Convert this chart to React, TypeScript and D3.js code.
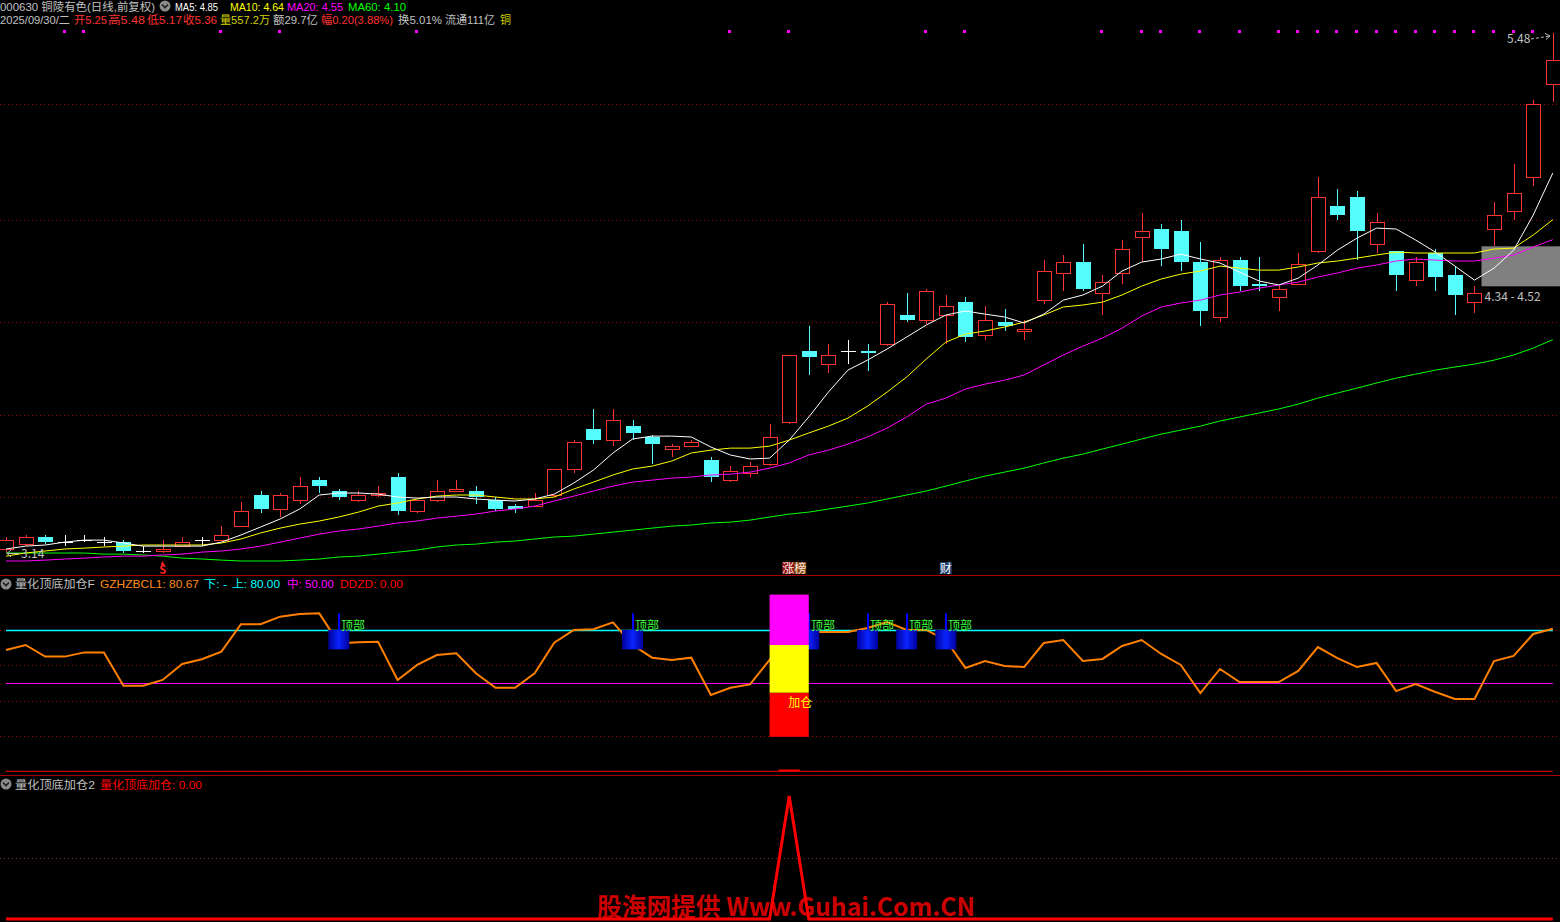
import React from "react";
import * as d3 from "d3";

// 000630 铜陵有色 日线 前复权, 80 trading days
const opens = [
  3.16, 3.18, 3.21, 3.19, 3.20, 3.19, 3.19, 3.15, 3.15, 3.17,
  3.20, 3.20, 3.26, 3.40, 3.34, 3.38, 3.47, 3.42, 3.38, 3.40,
  3.48, 3.33, 3.38, 3.42, 3.42, 3.38, 3.35, 3.35, 3.40, 3.52,
  3.70, 3.65, 3.71, 3.66, 3.61, 3.62, 3.56, 3.47, 3.50, 3.54,
  3.73, 4.05, 3.99, 4.05, 4.05, 4.08, 4.21, 4.19, 4.21, 4.27,
  4.12, 4.18, 4.14, 4.28, 4.40, 4.45, 4.31, 4.40, 4.56, 4.60,
  4.59, 4.45, 4.20, 4.46, 4.35, 4.29, 4.35, 4.50, 4.70, 4.74,
  4.53, 4.50, 4.37, 4.49, 4.39, 4.27, 4.60, 4.68, 4.83, 5.25,
];
const highs = [
  3.21, 3.22, 3.22, 3.22, 3.22, 3.21, 3.20, 3.17, 3.20, 3.21,
  3.21, 3.26, 3.37, 3.42, 3.41, 3.48, 3.48, 3.43, 3.42, 3.44,
  3.50, 3.38, 3.47, 3.47, 3.44, 3.39, 3.36, 3.41, 3.52, 3.65,
  3.79, 3.79, 3.74, 3.67, 3.63, 3.65, 3.57, 3.53, 3.55, 3.72,
  4.03, 4.16, 4.08, 4.10, 4.08, 4.27, 4.31, 4.33, 4.30, 4.29,
  4.25, 4.24, 4.19, 4.46, 4.48, 4.53, 4.39, 4.55, 4.67, 4.62,
  4.64, 4.54, 4.47, 4.47, 4.47, 4.34, 4.49, 4.83, 4.78, 4.77,
  4.67, 4.50, 4.47, 4.51, 4.43, 4.34, 4.72, 4.89, 5.18, 5.48,
];
const lows = [
  3.14, 3.17, 3.18, 3.17, 3.19, 3.17, 3.14, 3.14, 3.14, 3.17,
  3.17, 3.20, 3.26, 3.32, 3.30, 3.36, 3.41, 3.38, 3.37, 3.39,
  3.31, 3.32, 3.37, 3.42, 3.36, 3.33, 3.32, 3.35, 3.39, 3.50,
  3.63, 3.62, 3.65, 3.54, 3.57, 3.62, 3.46, 3.46, 3.48, 3.53,
  3.72, 3.94, 3.95, 3.99, 3.96, 4.07, 4.18, 4.17, 4.08, 4.09,
  4.10, 4.14, 4.10, 4.26, 4.32, 4.32, 4.21, 4.35, 4.45, 4.43,
  4.41, 4.16, 4.18, 4.32, 4.32, 4.23, 4.35, 4.49, 4.64, 4.46,
  4.49, 4.32, 4.34, 4.32, 4.21, 4.22, 4.52, 4.64, 4.79, 5.17,
];
const closes = [
  3.20, 3.21, 3.19, 3.19, 3.20, 3.19, 3.15, 3.15, 3.16, 3.19,
  3.20, 3.22, 3.33, 3.34, 3.40, 3.44, 3.44, 3.39, 3.40, 3.41,
  3.33, 3.38, 3.42, 3.43, 3.39, 3.34, 3.34, 3.38, 3.52, 3.64,
  3.65, 3.74, 3.68, 3.63, 3.62, 3.64, 3.48, 3.51, 3.53, 3.66,
  4.03, 4.02, 4.03, 4.05, 4.04, 4.26, 4.19, 4.32, 4.25, 4.11,
  4.19, 4.16, 4.15, 4.41, 4.45, 4.33, 4.36, 4.51, 4.59, 4.51,
  4.45, 4.23, 4.46, 4.34, 4.34, 4.33, 4.44, 4.74, 4.66, 4.59,
  4.63, 4.39, 4.45, 4.38, 4.30, 4.31, 4.66, 4.76, 5.16, 5.36,
];

const ma5 = [
  3.158, 3.171, 3.176, 3.189, 3.198, 3.198, 3.185, 3.171, 3.171, 3.171,
  3.171, 3.189, 3.221, 3.257, 3.293, 3.338, 3.401, 3.410, 3.410, 3.405,
  3.392, 3.387, 3.392, 3.392, 3.383, 3.378, 3.374, 3.383, 3.405, 3.455,
  3.513, 3.590, 3.653, 3.666, 3.666, 3.662, 3.617, 3.581, 3.563, 3.567,
  3.648, 3.752, 3.864, 3.963, 4.008, 4.058, 4.112, 4.166, 4.211, 4.229,
  4.215, 4.202, 4.175, 4.215, 4.278, 4.301, 4.341, 4.409, 4.449, 4.463,
  4.485, 4.463, 4.445, 4.404, 4.364, 4.346, 4.377, 4.436, 4.503, 4.557,
  4.602, 4.598, 4.548, 4.494, 4.431, 4.368, 4.422, 4.503, 4.661, 4.85,
];
const ma10 = [
  3.126, 3.140, 3.149, 3.158, 3.162, 3.167, 3.171, 3.176, 3.176, 3.176,
  3.176, 3.185, 3.203, 3.230, 3.252, 3.270, 3.284, 3.302, 3.324, 3.351,
  3.365, 3.383, 3.396, 3.401, 3.401, 3.392, 3.383, 3.383, 3.392, 3.428,
  3.459, 3.491, 3.518, 3.531, 3.554, 3.590, 3.603, 3.612, 3.612, 3.621,
  3.648, 3.680, 3.711, 3.747, 3.801, 3.864, 3.932, 4.013, 4.089, 4.125,
  4.139, 4.157, 4.179, 4.211, 4.247, 4.256, 4.269, 4.301, 4.341, 4.373,
  4.395, 4.409, 4.431, 4.422, 4.413, 4.413, 4.427, 4.445, 4.454, 4.467,
  4.481, 4.494, 4.490, 4.490, 4.490, 4.490, 4.508, 4.512, 4.571, 4.64,
];
const ma20 = [
  3.104, 3.104, 3.108, 3.113, 3.117, 3.122, 3.126, 3.126, 3.131, 3.135,
  3.144, 3.149, 3.158, 3.171, 3.189, 3.207, 3.225, 3.239, 3.248, 3.261,
  3.275, 3.284, 3.297, 3.306, 3.315, 3.329, 3.338, 3.351, 3.374, 3.396,
  3.419, 3.441, 3.459, 3.468, 3.477, 3.482, 3.491, 3.495, 3.504, 3.522,
  3.545, 3.581, 3.603, 3.630, 3.662, 3.702, 3.752, 3.810, 3.837, 3.878,
  3.900, 3.918, 3.941, 3.986, 4.031, 4.071, 4.107, 4.152, 4.206, 4.247,
  4.265, 4.278, 4.301, 4.314, 4.332, 4.346, 4.359, 4.382, 4.400, 4.422,
  4.436, 4.454, 4.463, 4.458, 4.454, 4.454, 4.467, 4.481, 4.517, 4.55,
];
const ma60 = [
  3.140, 3.140, 3.140, 3.140, 3.140, 3.135, 3.135, 3.131, 3.126, 3.117,
  3.113, 3.108, 3.104, 3.104, 3.104, 3.108, 3.113, 3.122, 3.126, 3.135,
  3.144, 3.153, 3.167, 3.176, 3.180, 3.189, 3.194, 3.203, 3.212, 3.216,
  3.225, 3.234, 3.243, 3.252, 3.261, 3.266, 3.275, 3.279, 3.288, 3.302,
  3.315, 3.324, 3.338, 3.351, 3.365, 3.383, 3.401, 3.419, 3.441, 3.464,
  3.486, 3.504, 3.522, 3.545, 3.567, 3.585, 3.608, 3.630, 3.653, 3.675,
  3.693, 3.711, 3.734, 3.752, 3.770, 3.788, 3.810, 3.837, 3.860, 3.882,
  3.905, 3.927, 3.945, 3.963, 3.977, 3.990, 4.008, 4.031, 4.062, 4.10,
];

const priceGrid = [3.39, 3.76, 4.18, 4.64, 5.16];
const markerDays = [3, 4, 11, 14, 21, 37, 40, 47, 49, 56, 58, 59, 61, 63, 65, 66, 67, 68, 69, 70, 71, 72, 73, 74, 75, 76, 77, 78];
const zoneLow = 4.34;
const zoneHigh = 4.52;
const zoneFrom = 75;
const sDay = 8;
const zhangbangDay = 40;
const caiDay = 48;

// 量化顶底加仓F
const gzhzbcl1 = [
  68.6, 71.5, 64.9, 64.9, 67.3, 67.3, 48.4, 48.4, 51.7, 60.7,
  63.4, 67.7, 83.2, 83.2, 87.5, 89.0, 89.4, 72.4, 73.0, 73.3,
  51.7, 60.2, 65.8, 66.8, 55.5, 47.3, 47.3, 55.5, 72.8, 80.0,
  80.4, 84.3, 71.5, 64.3, 63.0, 64.3, 43.2, 47.3, 49.2, 63.0,
  77.1, 79.0, 78.8, 78.8, 81.1, 84.5, 80.0, 80.0, 74.3, 58.5,
  62.4, 59.6, 59.0, 72.6, 74.3, 62.4, 63.6, 70.9, 74.3, 66.4,
  60.2, 44.3, 57.9, 50.5, 50.5, 50.5, 56.8, 70.3, 64.1, 59.0,
  61.3, 45.4, 49.4, 44.9, 40.9, 40.9, 62.4, 65.3, 77.7, 80.67,
];
const ddzd = [
  0, 0, 0, 0, 0, 0, 0, 0, 0, 0, 0, 0, 0, 0, 0, 0, 0, 0, 0, 0,
  0, 0, 0, 0, 0, 0, 0, 0, 0, 0, 0, 0, 0, 0, 0, 0, 0, 0, 0, 0,
  1, 0, 0, 0, 0, 0, 0, 0, 0, 0, 0, 0, 0, 0, 0, 0, 0, 0, 0, 0,
  0, 0, 0, 0, 0, 0, 0, 0, 0, 0, 0, 0, 0, 0, 0, 0, 0, 0, 0, 0,
];
const upperLevel = 80;
const midLevel = 50;
const indGrid = [20, 40, 60, 80];
const topDays = [17, 32, 41, 44, 46, 48];
const topBar = [69, 80, 89.5];
const addDay = 40;
const addStack = [19.5, 44.5, 71.5, 100];

// 量化顶底加仓2
const signal2 = [
  0, 0, 0, 0, 0, 0, 0, 0, 0, 0, 0, 0, 0, 0, 0, 0, 0, 0, 0, 0,
  0, 0, 0, 0, 0, 0, 0, 0, 0, 0, 0, 0, 0, 0, 0, 0, 0, 0, 0, 0,
  1, 0, 0, 0, 0, 0, 0, 0, 0, 0, 0, 0, 0, 0, 0, 0, 0, 0, 0, 0,
  0, 0, 0, 0, 0, 0, 0, 0, 0, 0, 0, 0, 0, 0, 0, 0, 0, 0, 0, 0,
];

const W = 1560;
const H = 922;
const FONT = "'Noto Sans CJK SC', 'DejaVu Sans', sans-serif";
const HEAD_FONT = "'Liberation Sans', 'Noto Sans CJK SC', sans-serif";
const RED = "#ff3232";
const CYAN = "#54fcfc";
const GRAY = "#c0c0c0";
const GRID = "#990000";

const x = d3.scaleBand<number>().domain(d3.range(opens.length)).range([-3.79, 1562.6]);
const cx = (i: number) => (x(i) ?? 0) + x.bandwidth() / 2;
const yP = d3.scaleLinear().domain([3.14, 5.48]).range([553, 33]);
const yI = d3.scaleLinear().domain([0, 100]).range([771.3, 594.6]);
const yB = d3.scaleLinear().domain([0, 1]).range([919, 796]);

const priceLine = d3.line<number>().x((_, i) => cx(i)).y((d) => yP(d));
const indLine = d3.line<number>().x((_, i) => cx(i)).y((d) => yI(d));
const botLine = d3.line<number>().x((_, i) => cx(i)).y((d) => yB(d));

const Icon = ({x0, y0}: { x0: number, y0: number }) => (
    <g>
        <circle cx={x0} cy={y0} r={5.5} fill="#8a8a8a"/>
        <path d={`M${x0 - 3},${y0 - 1.5} L${x0},${y0 + 1.5} L${x0 + 3},${y0 - 1.5}`} stroke="#202020" strokeWidth={1.6} fill="none"/>
    </g>
);

const Candle = ({i}: { i: number }) => {
    const o = opens[i], h = highs[i], l = lows[i], c = closes[i];
    const mid = Math.round(cx(i));
    const left = mid - 7;
    const yo = Math.round(yP(o)), yc = Math.round(yP(c));
    const yh = Math.round(yP(h)), yl = Math.round(yP(l));
    if (c === o) {
        return (
            <g stroke="#ffffff" strokeWidth={1}>
                <line x1={mid + 0.5} x2={mid + 0.5} y1={yh} y2={yl}/>
                <line x1={left} x2={left + 15} y1={yo + 0.5} y2={yo + 0.5}/>
            </g>
        );
    }
    if (c > o) {
        return (
            <g stroke={RED} strokeWidth={1}>
                <line x1={mid + 0.5} x2={mid + 0.5} y1={yh} y2={yc}/>
                <line x1={mid + 0.5} x2={mid + 0.5} y1={yo} y2={yl}/>
                <rect x={left + 0.5} y={yc + 0.5} width={14} height={Math.max(1, yo - yc)} fill="#000"/>
            </g>
        );
    }
    return (
        <g>
            <line x1={mid + 0.5} x2={mid + 0.5} y1={yh} y2={yl} stroke={CYAN}/>
            <rect x={left} y={yo} width={15} height={Math.max(1, yc - yo)} fill={CYAN}/>
        </g>
    );
};

const Seg = ({x0, y0, w, color, children}: { x0: number, y0: number, w?: number, color: string, children: string }) => (
    <text x={x0} y={y0} fill={color} fontSize={11} fontFamily={HEAD_FONT}
          textLength={w} lengthAdjust={w ? "spacingAndGlyphs" : undefined}>{children}</text>
);

const App: React.FC = () => {
    const last = closes.length - 1;
    const chg = closes[last] - closes[last - 1];
    const pct = (chg / closes[last - 1]) * 100;
    const zoneX = cx(zoneFrom) + 7;

    return (
        <div style={{position: "absolute", left: 0, top: 0, width: W, height: H, background: "#000"}}>
            <svg width={W} height={H} fontFamily={FONT} style={{display: "block"}}>
                <defs>
                    <linearGradient id="topGrad" x1="0" x2="1" y1="0" y2="0">
                        <stop offset="0" stopColor="#00009a"/>
                        <stop offset="0.5" stopColor="#0a24ff"/>
                        <stop offset="1" stopColor="#00009a"/>
                    </linearGradient>
                </defs>
                <rect width={W} height={H} fill="#000"/>

                {/* ---- main price panel ---- */}
                {priceGrid.map((p) => (
                    <line key={p} x1={0} x2={W} y1={Math.round(yP(p)) + 0.5} y2={Math.round(yP(p)) + 0.5}
                          stroke={GRID} strokeDasharray="1 3"/>
                ))}
                <rect x={zoneX} y={yP(zoneHigh)} width={W - zoneX} height={yP(zoneLow) - yP(zoneHigh)} fill="#808080"/>
                <g shapeRendering="crispEdges">
                    {opens.map((_, i) => <Candle key={i} i={i}/>)}
                </g>
                <path d={priceLine(ma60) ?? ""} stroke="#00ff00" fill="none" strokeWidth={1}/>
                <path d={priceLine(ma20) ?? ""} stroke="#ff00ff" fill="none" strokeWidth={1}/>
                <path d={priceLine(ma10) ?? ""} stroke="#ffff00" fill="none" strokeWidth={1}/>
                <path d={priceLine(ma5) ?? ""} stroke="#ffffff" fill="none" strokeWidth={1}/>

                {markerDays.map((d) => (
                    <rect key={d} x={Math.round(cx(d)) - 2} y={30} width={3} height={3} fill="#ff00ff"/>
                ))}

                <text x={1507} y={43} fill={GRAY} fontSize={12}>{highs[last].toFixed(2)}</text>
                <path d="M1531,39 L1550,36" stroke={GRAY} strokeDasharray="3 2"/>
                <path d="M1545,33.5 L1550,36 L1546,39.5" stroke={GRAY} fill="none"/>
                <path d="M19,553.5 L7,553.5 M11,550 L7,553.5 L11,557" stroke={GRAY} fill="none"/>
                <text x={21} y={558} fill={GRAY} fontSize={12}>{d3.min(lows)!.toFixed(2)}</text>
                <text x={zoneX + 3} y={301} fill={GRAY} fontSize={12}>{`${zoneLow.toFixed(2)} - ${zoneHigh.toFixed(2)}`}</text>

                <path d={`M${cx(sDay) - 2},${565} L${cx(sDay)},${561} L${cx(sDay) + 2},${565} Z`} fill="#ff2020"/>
                <text x={cx(sDay)} y={574} fill="#ff2020" fontSize={11} fontWeight="bold" textAnchor="middle">S</text>

                <rect x={cx(zhangbangDay) - 7} y={562} width={12} height={12} fill="#8c1010"/>
                <rect x={cx(zhangbangDay) + 5} y={562} width={12} height={12} fill="#8a4a12"/>
                <text x={cx(zhangbangDay) - 7} y={573} fill="#ffe8e0" fontSize={12}>涨</text>
                <text x={cx(zhangbangDay) + 5} y={573} fill="#ffe8e0" fontSize={12}>榜</text>
                <rect x={cx(caiDay) - 6} y={562} width={12} height={12} fill="#1c3a66"/>
                <text x={cx(caiDay) - 6} y={573} fill="#ffffff" fontSize={12}>财</text>

                <line x1={0} x2={W} y1={575.5} y2={575.5} stroke="#a80000"/>

                {/* ---- header ---- */}
                <Seg x0={0} y0={11} w={155} color={GRAY}>000630 铜陵有色(日线,前复权)</Seg>
                <Icon x0={165} y0={6}/>
                <Seg x0={175} y0={11} w={43} color="#ffffff">{`MA5: ${ma5[last].toFixed(2)}`}</Seg>
                <Seg x0={230} y0={11} w={54} color="#ffff00">{`MA10: ${ma10[last].toFixed(2)}`}</Seg>
                <Seg x0={287} y0={11} w={56} color="#ff00ff">{`MA20: ${ma20[last].toFixed(2)}`}</Seg>
                <Seg x0={348} y0={11} w={58} color="#00ff00">{`MA60: ${ma60[last].toFixed(2)}`}</Seg>

                <Seg x0={0} y0={24} w={70} color={GRAY}>2025/09/30/二</Seg>
                <Seg x0={74} y0={24} w={33} color={RED}>{`开${opens[last].toFixed(2)}`}</Seg>
                <Seg x0={108} y0={24} w={37} color={RED}>{`高${highs[last].toFixed(2)}`}</Seg>
                <Seg x0={147} y0={24} w={35} color={RED}>{`低${lows[last].toFixed(2)}`}</Seg>
                <Seg x0={183} y0={24} w={34} color={RED}>{`收${closes[last].toFixed(2)}`}</Seg>
                <Seg x0={220} y0={24} w={50} color="#d2d200">量557.2万</Seg>
                <Seg x0={273} y0={24} w={45} color={GRAY}>额29.7亿</Seg>
                <Seg x0={321} y0={24} w={72} color={RED}>{`幅${chg.toFixed(2)}(${pct.toFixed(2)}%)`}</Seg>
                <Seg x0={398} y0={24} w={44} color={GRAY}>换5.01%</Seg>
                <Seg x0={445} y0={24} w={50} color={GRAY}>流通111亿</Seg>
                <Seg x0={500} y0={24} w={11} color="#d2d200">铜</Seg>

                {/* ---- 量化顶底加仓F ---- */}
                <Icon x0={6} y0={584}/>
                <Seg x0={15} y0={588} w={80} color={GRAY}>量化顶底加仓F</Seg>
                <Seg x0={100} y0={588} w={99} color="#ff8c1a">{`GZHZBCL1: ${gzhzbcl1[last].toFixed(2)}`}</Seg>
                <Seg x0={204} y0={588} w={23} color="#00ffff">下: -</Seg>
                <Seg x0={232} y0={588} w={48} color="#00ffff">{`上: ${upperLevel.toFixed(2)}`}</Seg>
                <Seg x0={287} y0={588} w={47} color="#ff00ff">{`中: ${midLevel.toFixed(2)}`}</Seg>
                <Seg x0={340} y0={588} w={63} color="#ff0000">{`DDZD: ${ddzd[last].toFixed(2)}`}</Seg>

                {indGrid.map((v) => (
                    <line key={v} x1={0} x2={W} y1={Math.round(yI(v)) + 0.5} y2={Math.round(yI(v)) + 0.5}
                          stroke={GRID} strokeDasharray="1 3"/>
                ))}
                <line x1={cx(0)} x2={cx(last)} y1={Math.round(yI(upperLevel)) + 0.5} y2={Math.round(yI(upperLevel)) + 0.5}
                      stroke="#00ffff" strokeWidth={1.5}/>
                <line x1={cx(0)} x2={cx(last)} y1={Math.round(yI(midLevel)) + 0.5} y2={Math.round(yI(midLevel)) + 0.5}
                      stroke="#ff00ff" strokeWidth={1}/>
                <path d={indLine(gzhzbcl1) ?? ""} stroke="#ff8000" strokeWidth={2} fill="none"/>

                {topDays.map((d) => (
                    <g key={d}>
                        <rect x={cx(d) - 10.5} y={yI(topBar[1])} width={21} height={yI(topBar[0]) - yI(topBar[1])}
                              fill="url(#topGrad)"/>
                        <rect x={Math.round(cx(d)) - 1} y={yI(topBar[2])} width={2} height={yI(topBar[1]) - yI(topBar[2])}
                              fill="#0000ff"/>
                    </g>
                ))}
                {topDays.map((d) => (
                    <text key={d} x={Math.round(cx(d)) + 2} y={630} fill="#3cff3c" fontSize={12}>顶部</text>
                ))}

                {[["#ff0000"], ["#ffff00"], ["#ff00ff"]].map(([col], k) => (
                    <rect key={k} x={cx(addDay) - x.step()} y={yI(addStack[k + 1])} width={x.step() * 2}
                          height={yI(addStack[k]) - yI(addStack[k + 1])} fill={col}/>
                ))}
                <text x={cx(addDay) - 1} y={707} fill="#ffff00" fontSize={12}>加仓</text>

                <path d={indLine(ddzd.map(() => 0)) ?? ""} stroke="#ff0000" strokeWidth={1} fill="none"/>
                {ddzd.map((v, i) => v > 0 ? (
                    <rect key={i} x={cx(i) - 10.5} y={yI(v)} width={21} height={yI(0) - yI(v)} fill="#ff0000"/>
                ) : null)}

                <line x1={0} x2={W} y1={775.5} y2={775.5} stroke="#a80000"/>

                {/* ---- 量化顶底加仓2 ---- */}
                <Icon x0={6} y0={784}/>
                <Seg x0={15} y0={789} w={80} color={GRAY}>量化顶底加仓2</Seg>
                <Seg x0={100} y0={789} w={102} color="#ff0000">{`量化顶底加仓: ${signal2[last].toFixed(2)}`}</Seg>
                <line x1={0} x2={W} y1={Math.round(yB(0.5)) + 0.5} y2={Math.round(yB(0.5)) + 0.5}
                      stroke="#7a3030" strokeDasharray="1 3"/>
                <text x={597} y={916} fill="#cc0000" fontSize={25} fontWeight="bold"
                      textLength={378} lengthAdjust="spacingAndGlyphs">股海网提供 Www.Guhai.Com.CN</text>
                <path d={botLine(signal2) ?? ""} stroke="#ff0000" strokeWidth={3} fill="none"/>
            </svg>
        </div>
    );
};

export default App;
